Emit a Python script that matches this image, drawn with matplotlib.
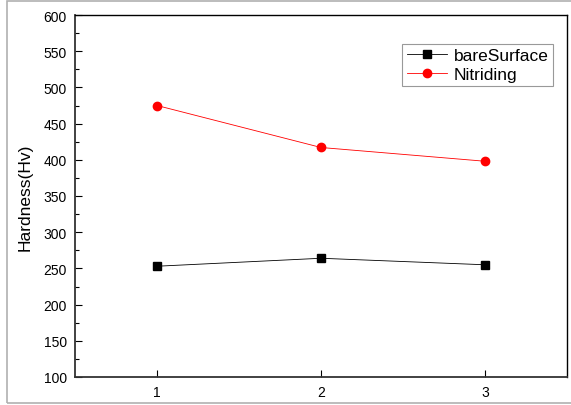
import matplotlib
matplotlib.use("Agg")
import matplotlib.pyplot as plt
from matplotlib.patches import Rectangle
from matplotlib.ticker import MultipleLocator

plt.rcParams['font.family'] = ['Liberation Sans', 'DejaVu Sans']

samples = [1, 2, 3]
bare_surface = [253, 264, 255]
nitriding = [475, 417, 398]

fig = plt.figure(figsize=(5.71, 4.06), dpi=100)
# grey frame round the picture
fig.patches.append(Rectangle((7 / 571, 2 / 406), 1.2, 402 / 406, transform=fig.transFigure,
                             fill=False, edgecolor="#b0b0b0", linewidth=1.2))
ax = fig.add_axes([75 / 571, 28 / 406, 492 / 571, 362 / 406])

ax.plot(samples, bare_surface, color="black", linewidth=0.6, marker="s",
        markersize=5.5, markerfacecolor="black", label="bareSurface")
ax.plot(samples, nitriding, color="red", linewidth=0.6, marker="o",
        markersize=6, markerfacecolor="red", markeredgecolor="red", label="Nitriding")

ax.set_xlim(0.5, 3.5)
ax.set_ylim(100, 600)
ax.set_xticks(samples)
ax.yaxis.set_major_locator(MultipleLocator(50))
ax.yaxis.set_minor_locator(MultipleLocator(25))
ax.tick_params(axis="both", which="both", direction="in", labelsize=10, pad=6)
ax.tick_params(which="major", length=5, width=0.8)
ax.tick_params(which="minor", length=3, width=0.8)
ax.tick_params(top=False, right=False)
ax.tick_params(axis="x", which="minor", bottom=False)
for side in ["left", "bottom"]:
    ax.spines[side].set_linewidth(1.3)
    ax.spines[side].set_color("#333333")
for side in ["top", "right"]:
    ax.spines[side].set_linewidth(1.0)

ax.set_ylabel("Hardness(Hv)", fontsize=12.5, labelpad=8)

leg = ax.legend(loc="upper right", bbox_to_anchor=(0.971, 0.92), fontsize=12.5,
                frameon=True, fancybox=False, edgecolor="#808080", handlelength=2.3,
                handletextpad=0.4, borderpad=0.25, labelspacing=0.2, borderaxespad=0)
leg.get_frame().set_linewidth(0.8)

fig.savefig("out.png", dpi=100)
